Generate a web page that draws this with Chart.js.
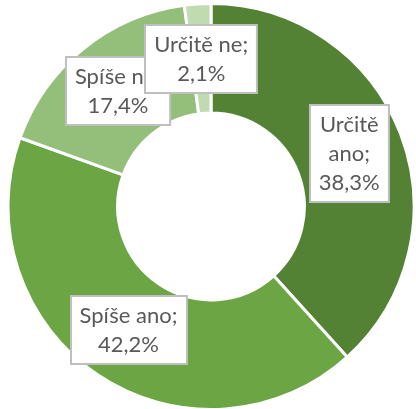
<!DOCTYPE html>
<html>
<head>
    <meta charset="utf-8">
    <title>Doughnut</title>
    <script src="https://cdn.jsdelivr.net/npm/chart.js"></script>
    <style>
        html, body { margin: 0; padding: 0; background: #fff; overflow: hidden; }
        #wrap { position: absolute; left: 0; top: 2px; width: 422px; height: 409px; }
    </style>
</head>
<body>
    <div id="wrap"><canvas id="pieChart"></canvas></div>

    <script>
        const categories = ['Určitě ano', 'Spíše ano', 'Spíše ne', 'Určitě ne'];
        const values = [38.3, 42.2, 17.4, 2.1];
        const colors = ['#548235', '#6ba544', '#94bf7a', '#c1dbb1'];

        // boxed data labels, drawn at the middle of each ring segment
        const boxLabels = {
            id: 'boxLabels',
            afterDatasetsDraw(chart, args, opts) {
                const ctx = chart.ctx;
                const meta = chart.getDatasetMeta(0);
                ctx.save();
                ctx.font = opts.font;
                const lh = opts.lineHeight;
                meta.data.forEach((arc, i) => {
                    const pos = arc.tooltipPosition();
                    const words = (categories[i] + ';').split(' ');
                    const lines = [];
                    let cur = '';
                    words.forEach(w => {
                        const t = cur ? cur + ' ' + w : w;
                        if (cur && ctx.measureText(t).width > opts.wrap[i]) {
                            lines.push(cur);
                            cur = w;
                        } else {
                            cur = t;
                        }
                    });
                    lines.push(cur);
                    lines.push(values[i].toFixed(1).replace('.', ',') + '%');
                    const tw = Math.max(...lines.map(l => ctx.measureText(l).width));
                    const w = tw + opts.padX * 2;
                    const h = lines.length * lh + opts.padY * 2;
                    const x = Math.round(pos.x - w / 2);
                    const y = Math.round(pos.y - h / 2);
                    ctx.fillStyle = '#ffffff';
                    ctx.fillRect(x, y, w, h);
                    ctx.strokeStyle = '#bfbfbf';
                    ctx.lineWidth = 2;
                    ctx.strokeRect(x, y, w, h);
                    ctx.fillStyle = '#595959';
                    ctx.textAlign = 'center';
                    ctx.textBaseline = 'middle';
                    lines.forEach((l, k) => {
                        ctx.fillText(l, pos.x, y + opts.padY + lh * (k + 0.5));
                    });
                });
                ctx.restore();
            }
        };

        const ctx = document.getElementById('pieChart').getContext('2d');
        const pieChart = new Chart(ctx, {
            type: 'doughnut',
            data: {
                labels: categories,
                datasets: [{
                    data: values,
                    backgroundColor: colors,
                    borderColor: '#ffffff',
                    borderWidth: 3
                }]
            },
            options: {
                responsive: true,
                maintainAspectRatio: false,
                animation: false,
                cutout: '46%',
                layout: { padding: 0 },
                plugins: {
                    legend: { display: false },
                    tooltip: { enabled: false },
                    boxLabels: {
                        font: '22px Lato',
                        lineHeight: 29,
                        padX: 9,
                        padY: 5,
                        wrap: [72, 150, 150, 150]
                    }
                }
            },
            plugins: [boxLabels]
        });
    </script>
</body>
</html>
